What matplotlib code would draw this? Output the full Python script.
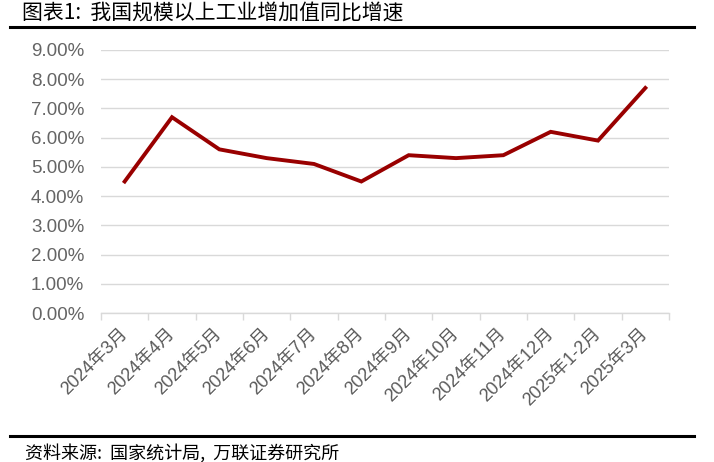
import matplotlib
matplotlib.use("Agg")
import matplotlib.pyplot as plt
from matplotlib.ticker import FuncFormatter, MultipleLocator
from matplotlib.lines import Line2D

plt.rcParams['font.family'] = ['Noto Sans CJK SC', 'DejaVu Sans']
LAT = ['Liberation Sans', 'Noto Sans CJK SC']

categories = ["2024年3月", "2024年4月", "2024年5月", "2024年6月", "2024年7月", "2024年8月",
              "2024年9月", "2024年10月", "2024年11月", "2024年12月", "2025年1-2月", "2025年3月"]
values = [4.5, 6.7, 5.6, 5.3, 5.1, 4.5, 5.4, 5.3, 5.4, 6.2, 5.9, 7.7]
title = "图表1:  我国规模以上工业增加值同比增速"
source = "资料来源:  国家统计局,  万联证券研究所"

W, H = 714, 462
fig = plt.figure(figsize=(W / 100, H / 100), dpi=100)
ax = fig.add_axes([101 / W, 1 - 313 / H, (669 - 101) / W, (313 - 50) / H])

x = list(range(len(categories)))
ax.plot(x, values, color="#990000", linewidth=2.8, solid_joinstyle="miter")
ax.set_xlim(-0.5, len(categories) - 0.5)
ax.set_ylim(0, 9)
ax.yaxis.set_major_locator(MultipleLocator(1))
ax.yaxis.set_major_formatter(FuncFormatter(lambda v, p: f"{v:.2f}%"))
ax.grid(axis="y", color="#d9d9d9", linewidth=1.0)
ax.set_axisbelow(True)
for s in ["top", "right", "left"]:
    ax.spines[s].set_visible(False)
ax.spines["bottom"].set_color("#d9d9d9")
ax.spines["bottom"].set_linewidth(1.0)

ax.set_xticks(x)
ax.set_xticklabels(categories, rotation=45, ha="right", va="center", rotation_mode="anchor",
                   fontsize=13, color="#595959", family=LAT)
ax.tick_params(axis="x", length=0, pad=13)
ax.set_xticks([i - 0.5 for i in range(len(categories) + 1)], minor=True)
ax.tick_params(axis="x", which="minor", length=5, color="#d9d9d9", width=1.0)
ax.tick_params(axis="y", length=0, labelsize=13.5, labelcolor="#656565", pad=12)
for t in ax.get_yticklabels():
    t.set_family(LAT)

fig.text(22 / W, 1 - 13 / H, title, fontsize=15, va="center", ha="left", color="black")
fig.add_artist(Line2D([10 / W, 694 / W], [1 - 27 / H, 1 - 27 / H], color="black", linewidth=2.2))
fig.add_artist(Line2D([10 / W, 694 / W], [1 - 436 / H, 1 - 436 / H], color="black", linewidth=2.2))
fig.text(25 / W, 1 - 453 / H, source, fontsize=13, va="center", ha="left", color="black",
         style="italic")

fig.savefig("out.png", dpi=100)
